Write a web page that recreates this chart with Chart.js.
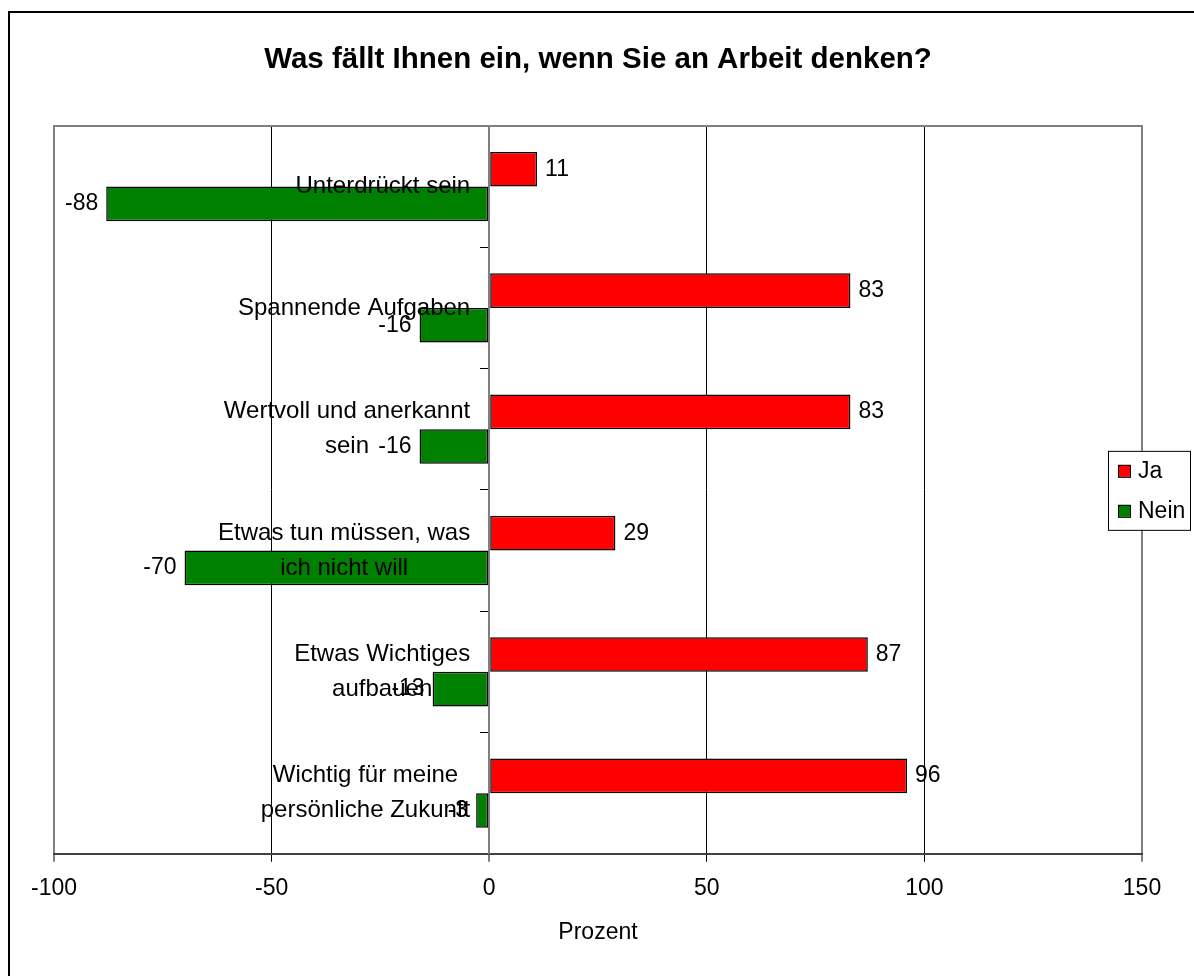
<!DOCTYPE html>
<html>
<head>
<meta charset="utf-8">
<script src="https://cdn.jsdelivr.net/npm/chart.js@4.4.0/dist/chart.umd.min.js"></script>
<style>
  html, body { margin: 0; padding: 0; background: #fff; }
  canvas { display: block; }
</style>
</head>
<body>
<canvas id="arbeit" width="1194" height="976"></canvas>
<script>
// Daten
var kategorien = [
  ['Unterdrückt sein'],
  ['Spannende Aufgaben'],
  ['Wertvoll und anerkannt', 'sein'],
  ['Etwas tun müssen, was', 'ich nicht will'],
  ['Etwas Wichtiges', 'aufbauen'],
  ['Wichtig für meine', 'persönliche Zukunft']
];
var ja = [11, 83, 83, 29, 87, 96];
var nein = [-88, -16, -16, -70, -13, -3];
var xTicks = [-100, -50, 0, 50, 100, 150];
var serien = ['Ja', 'Nein'];
var farben = ['#ff0000', '#008000'];

var schrift = '"Liberation Sans", Arial, sans-serif';

// Rahmen, Beschriftungen und Legende im Excel-Stil
var excelStil = {
  id: 'excelStil',
  beforeDraw: function(chart) {
    var ctx = chart.ctx;
    ctx.save();
    ctx.fillStyle = '#fff';
    ctx.fillRect(0, 0, chart.width, chart.height);
    ctx.strokeStyle = '#000';
    ctx.lineWidth = 2;
    ctx.strokeRect(9, 12, chart.width + 20, chart.height + 20);
    ctx.restore();
  },
  beforeDatasetsDraw: function(chart) {
    var a = chart.chartArea, ctx = chart.ctx;
    ctx.save();
    ctx.strokeStyle = '#808080';
    ctx.lineWidth = 2;
    ctx.beginPath();
    ctx.moveTo(a.left - 1, a.top);
    ctx.lineTo(a.right + 1, a.top);
    ctx.stroke();
    ctx.restore();
  },
  afterDatasetsDraw: function(chart) {
    var ctx = chart.ctx;
    ctx.save();
    ctx.font = '23px ' + schrift;
    ctx.fillStyle = '#000';
    ctx.textBaseline = 'middle';
    // Werte an den Balkenenden
    chart.data.datasets.forEach(function(ds, i) {
      chart.getDatasetMeta(i).data.forEach(function(bar, j) {
        var v = ds.data[j];
        ctx.textAlign = v < 0 ? 'right' : 'left';
        ctx.fillText(String(v), bar.x + (v < 0 ? -8 : 8), bar.y);
      });
    });
    // Kategorien an der Nulllinie
    ctx.font = '24px ' + schrift;
    var x0 = chart.scales.x.getPixelForValue(0) - 19;
    ctx.textAlign = 'center';
    kategorien.forEach(function(zeilen, j) {
      var breit = Math.max.apply(null, zeilen.map(function(z) { return ctx.measureText(z).width; }));
      var mx = x0 - breit / 2;
      var y = chart.scales.y.getPixelForValue(j) - (zeilen.length - 1) * 35 / 2;
      zeilen.forEach(function(z, k) { ctx.fillText(z, mx, y + k * 35); });
    });
    ctx.restore();
  },
  afterDraw: function(chart) {
    var ctx = chart.ctx;
    var a = chart.chartArea;
    var lx = chart.width - 86, ly = (a.top + a.bottom) / 2 - 39;
    ctx.save();
    ctx.fillStyle = '#fff';
    ctx.fillRect(lx, ly, 82, 79);
    ctx.strokeStyle = '#000';
    ctx.lineWidth = 1;
    ctx.strokeRect(lx + 0.5, ly + 0.5, 82, 79);
    ctx.font = '23px ' + schrift;
    ctx.textBaseline = 'middle';
    ctx.textAlign = 'left';
    serien.forEach(function(name, i) {
      var y = ly + 20 + i * 40;
      ctx.fillStyle = farben[i];
      ctx.fillRect(lx + 10, y - 6, 12, 12);
      ctx.strokeStyle = '#000';
      ctx.strokeRect(lx + 10.5, y - 5.5, 12, 12);
      ctx.fillStyle = '#000';
      ctx.fillText(name, lx + 30, y + 1);
    });
    ctx.restore();
  }
};

var randWert = function(v) { return v === -100 || v === 150 || v === 0; };

var ctx = document.getElementById('arbeit').getContext('2d');
var chart = new Chart(ctx, {
  type: 'bar',
  data: {
    labels: kategorien,
    datasets: [
      {
        label: serien[0],
        data: ja,
        backgroundColor: farben[0],
        borderColor: '#000',
        borderWidth: 1.5,
        borderSkipped: false,
        categoryPercentage: 0.5714,
        barPercentage: 1
      },
      {
        label: serien[1],
        data: nein,
        backgroundColor: farben[1],
        borderColor: '#000',
        borderWidth: 1.5,
        borderSkipped: false,
        categoryPercentage: 0.5714,
        barPercentage: 1
      }
    ]
  },
  options: {
    indexAxis: 'y',
    responsive: false,
    animation: false,
    events: [],
    layout: { padding: { left: 54, right: 52, top: 0, bottom: 0 } },
    plugins: {
      legend: { display: false },
      tooltip: { enabled: false },
      title: {
        display: true,
        text: 'Was fällt Ihnen ein, wenn Sie an Arbeit denken?',
        color: '#000',
        font: { family: schrift, size: 29.5, weight: 'bold' },
        padding: { top: 42.5, bottom: 48 }
      }
    },
    scales: {
      x: {
        min: -100,
        max: 150,
        afterBuildTicks: function(s) {
          s.ticks = xTicks.map(function(v) { return { value: v }; });
        },
        grid: {
          color: function(c) { return c.tick && randWert(c.tick.value) ? '#808080' : '#000'; },
          lineWidth: function(c) { return c.tick && randWert(c.tick.value) ? 2 : 1; },
          tickLength: 8
        },
        border: { color: '#404040', width: 2 },
        ticks: {
          color: '#000',
          font: { family: schrift, size: 23 },
          padding: 13,
          maxRotation: 0,
          autoSkip: false
        },
        title: {
          display: true,
          text: 'Prozent',
          color: '#000',
          font: { family: schrift, size: 23 },
          padding: { top: 3, bottom: 30 }
        }
      },
      y: {
        position: { x: 0 },
        z: 1,
        grid: { drawOnChartArea: false, drawTicks: true, tickLength: 8, color: '#000', lineWidth: 1 },
        border: { color: '#808080', width: 2 },
        ticks: { display: false }
      }
    }
  },
  plugins: [excelStil]
});
</script>
</body>
</html>
